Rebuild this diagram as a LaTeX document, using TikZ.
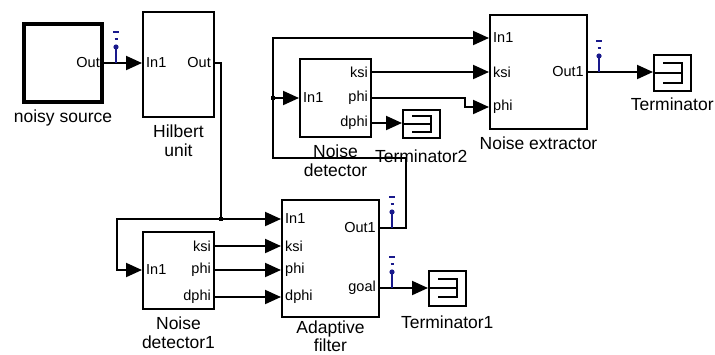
\documentclass[tikz,border=0pt]{standalone}
\usepackage{fontspec}
\setmainfont{Liberation Sans}
\usepackage{xcolor}
\usepackage{tikz}
\usetikzlibrary{arrows.meta, positioning, calc}
\definecolor{probeblue}{RGB}{25,25,140}
\tikzset{
  block/.style={rectangle, draw=black, line width=2pt, anchor=north west, inner sep=0pt},
  termblock/.style={rectangle, draw=black, line width=1.5pt, anchor=north west, inner sep=0pt, minimum width=37pt},
  port/.style={font=\fontsize{14.5}{16}\selectfont, inner sep=4pt},
  blabel/.style={font=\fontsize{17.5}{19}\selectfont, align=center, inner sep=0pt},
  wire/.style={line width=2pt},
  arrow/.style={wire, -{Triangle[length=16pt,width=14pt]}},
  junction/.style={rectangle, fill=black, minimum size=4.5pt, inner sep=0pt},
  probe/.style={draw=probeblue, line width=1.6pt}
}

\begin{document}
\begin{tikzpicture}[x=1pt, y=-1pt]
\useasboundingbox (0,0) rectangle (715,354);
% Blocks
\node[block, line width=4pt, minimum width=78pt, minimum height=78pt] (src) at (22,22) {};
\node[block, minimum width=71pt, minimum height=105pt] (hil) at (142,11) {};
\node[block, minimum width=71pt, minimum height=78pt] (nd) at (299,58) {};
\node[block, minimum width=97pt, minimum height=114pt] (nx) at (489,14) {};
\node[block, minimum width=71pt, minimum height=77pt] (nd1) at (142,231) {};
\node[block, minimum width=97pt, minimum height=117pt] (af) at (281,199) {};
\node[termblock, minimum height=36pt] (tm) at (653,54) {};
\node[termblock, minimum height=28pt] (t2) at (402,109) {};
\node[termblock, minimum height=35pt] (t1) at (428,270) {};

% Block names
\node[blabel, below=6pt of src] (src-name) {noisy source};
\node[blabel, below=7pt of hil] (hil-name) {Hilbert\\unit};
\node[blabel, below=7pt of nd] (nd-name) {Noise\\detector};
\node[blabel, below=11pt of t2] (t2-name) {Terminator2};
\node[blabel, below=7pt of nx] (nx-name) {Noise extractor};
\node[blabel, below=6pt of tm] (tm-name) {Terminator};
\node[blabel, below=7pt of nd1] (nd1-name) {Noise\\detector1};
\node[blabel, below=3pt of af, font=\fontsize{17.5}{15.5}\selectfont] (af-name) {Adaptive\\filter};
\node[blabel, below=9pt of t1] (t1-name) {Terminator1};

% Ports
\coordinate (src-out) at (src.east |- 0,63);
\coordinate (hil-in1) at (hil.west |- 0,63);
\coordinate (hil-out) at (hil.east |- 0,63);
\coordinate (nd-in1) at (nd.west |- 0,98);
\coordinate (nd-ksi) at (nd.east |- 0,72);
\coordinate (nd-phi) at (nd.east |- 0,98);
\coordinate (nd-dphi) at (nd.east |- 0,123);
\coordinate (nx-in1) at (nx.west |- 0,38);
\coordinate (nx-ksi) at (nx.west |- 0,72);
\coordinate (nx-phi) at (nx.west |- 0,107);
\coordinate (nx-out1) at (nx.east |- 0,72);
\coordinate (nd1-in1) at (nd1.west |- 0,270);
\coordinate (nd1-ksi) at (nd1.east |- 0,246);
\coordinate (nd1-phi) at (nd1.east |- 0,270);
\coordinate (nd1-dphi) at (nd1.east |- 0,297);
\coordinate (af-in1) at (af.west |- 0,219);
\coordinate (af-ksi) at (af.west |- 0,246);
\coordinate (af-phi) at (af.west |- 0,270);
\coordinate (af-dphi) at (af.west |- 0,297);
\coordinate (af-out1) at (af.east |- 0,228);
\coordinate (af-goal) at (af.east |- 0,288);

\node[port, left] (src-out-lbl) at (src-out) {Out};
\node[port, right] (hil-in1-lbl) at (hil-in1) {In1};
\node[port, left] (hil-out-lbl) at (hil-out) {Out};
\foreach \b in {nd,nd1} {
  \node[port, right] (\b-in1-lbl) at (\b-in1) {In1};
  \foreach \p in {ksi,phi,dphi}
    \node[port, left] (\b-\p-lbl) at (\b-\p) {\p};
}
\foreach \p/\t in {in1/In1,ksi/ksi,phi/phi}
  \node[port, right] (nx-\p-lbl) at (nx-\p) {\t};
\node[port, left] (nx-out1-lbl) at (nx-out1) {Out1};
\foreach \p/\t in {in1/In1,ksi/ksi,phi/phi,dphi/dphi}
  \node[port, right] (af-\p-lbl) at (af-\p) {\t};
\node[port, left] (af-out1-lbl) at (af-out1) {Out1};
\node[port, left] (af-goal-lbl) at (af-goal) {goal};

% Terminator symbols
\foreach \t/\d in {tm/10,t1/9,t2/8} {
  \draw[wire] ($(\t.west)+(2,0)$) -- ++(27,0);
  \draw[wire] ($(\t.west)+(10,-\d)$) -- ++(19,0) -- ++(0,2*\d) -- ++(-19,0);
}

% Wires
\coordinate (j1) at (221,219);
\coordinate (loop) at (273,158);
\coordinate (j2) at (nd-in1 -| loop);
\draw[arrow] (src-out) -- (hil-in1);
\draw[wire] (hil-out) -| (j1);
\draw[arrow] (j1) -- (af-in1);
\draw[arrow] (j1) -- ++(-104,0) |- (nd1-in1);
\foreach \p in {ksi,phi,dphi}
  \draw[arrow] (nd1-\p) -- (af-\p);
\draw[arrow] (af-out1) -- ++(26,0) |- (loop) |- (nx-in1);
\draw[arrow] (j2) -- (nd-in1);
\draw[arrow] (nd-ksi) -- (nx-ksi);
\draw[arrow] (nd-phi) -- ++(93,0) |- (nx-phi);
\draw[arrow] (nd-dphi) -- (nd-dphi -| t2.west);
\draw[arrow] (nx-out1) -- (nx-out1 -| tm.west);
\draw[arrow] (af-goal) -- (af-goal -| t1.west);
\node[junction] (j1-dot) at (j1) {};
\node[junction] (j2-dot) at (j2) {};

% Probes
\coordinate (pr1) at ($(src-out)+(12,0)$);
\coordinate (pr2) at ($(nx-out1)+(11,0)$);
\coordinate (pr3) at ($(af-out1)+(12,0)$);
\coordinate (pr4) at ($(af-goal)+(12,0)$);
\foreach \p in {pr1,pr2,pr3,pr4} {
  \draw[probe] (\p) -- ++(0,-16);
  \fill[probeblue] ($(\p)+(0,-16)$) circle (2.6pt);
  \draw[probe] ($(\p)+(-1.5,-24)$) -- ++(3,0);
  \draw[probe] ($(\p)+(-3,-31)$) -- ++(6,0);
}
\end{tikzpicture}
\end{document}
